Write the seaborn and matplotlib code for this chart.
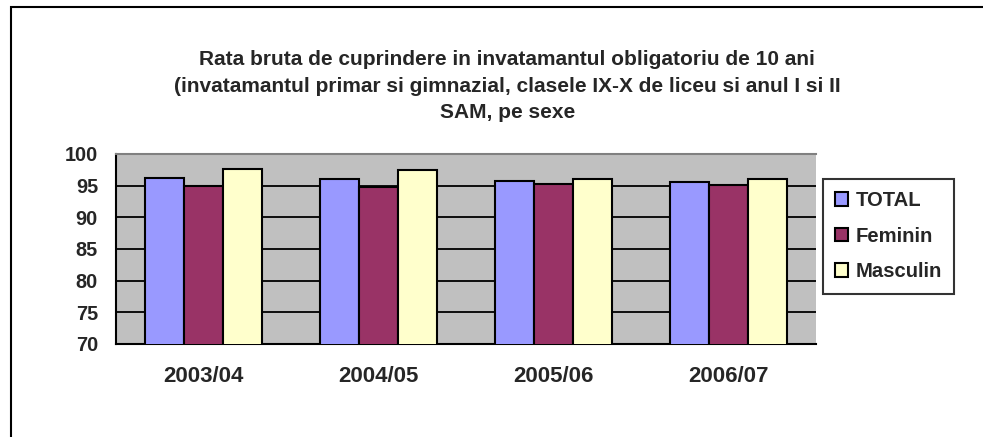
import matplotlib
matplotlib.use("Agg")
import matplotlib.pyplot as plt
import pandas as pd
import seaborn as sns
from matplotlib.patches import Rectangle

years = ["2003/04", "2004/05", "2005/06", "2006/07"]
series = ["TOTAL", "Feminin", "Masculin"]
total = [96.2, 96.1, 95.7, 95.5]
feminin = [95.0, 94.7, 95.2, 95.1]
masculin = [97.6, 97.5, 96.1, 96.0]
colors = ["#9999FF", "#993366", "#FFFFCC"]

title = ("Rata bruta de cuprindere in invatamantul obligatoriu de 10 ani\n"
         "(invatamantul primar si gimnazial, clasele IX-X de liceu si anul I si II\n"
         "SAM, pe sexe")

df = pd.DataFrame({"an": years, "TOTAL": total, "Feminin": feminin, "Masculin": masculin})
df = df.melt(id_vars="an", var_name="serie", value_name="rata")

sns.set_theme(style="white")
plt.rcParams["font.family"] = ["Liberation Sans", "DejaVu Sans"]
plt.rcParams["font.weight"] = "bold"

fig = plt.figure(figsize=(9.83, 4.37), dpi=100)
ax = fig.add_axes([0.118, 0.213, 0.712, 0.435])

sns.barplot(data=df, x="an", y="rata", hue="serie", hue_order=series,
            palette=colors, saturation=1, width=2 / 3, edgecolor="black",
            linewidth=1.5, ax=ax, zorder=3)

ax.set_facecolor("#C0C0C0")
ax.set_ylim(70, 100)
ax.set_yticks(range(70, 101, 5))
ax.set_xlim(-0.5, 3.5)
ax.grid(axis="y", color="black", linewidth=1.3, zorder=0)
ax.set_axisbelow(True)

# ticks between the groups, like Excel
ax.set_xticks([-0.5, 0.5, 1.5, 2.5, 3.5], minor=False)
ax.set_xticklabels([])
ax.set_xticks(range(4), minor=True)
ax.set_xticklabels(years, minor=True)
ax.tick_params(axis="x", which="major", direction="out", length=6, width=1.5, color="black")
ax.tick_params(axis="x", which="minor", length=0, pad=16, labelsize=16)
ax.tick_params(axis="y", direction="out", length=5, width=1.5, color="black",
               labelsize=14.3, pad=8)
for lab in ax.get_xticklabels(minor=True) + ax.get_yticklabels():
    lab.set_fontweight("bold")

for side in ["left", "bottom"]:
    ax.spines[side].set_color("black")
    ax.spines[side].set_linewidth(1.5)
ax.spines["top"].set_color("#808080")
ax.spines["top"].set_linewidth(1.5)
ax.spines["right"].set_visible(False)

ax.set_xlabel("")
ax.set_ylabel("")

leg = ax.legend(loc="upper left", bbox_to_anchor=(1.01, 0.868), frameon=True,
                fancybox=False, edgecolor="black", fontsize=14.6, handlelength=0.65,
                handleheight=0.65, handletextpad=0.35, labelspacing=0.82,
                borderpad=0.6, borderaxespad=0)
leg.get_frame().set_linewidth(1.5)
for t in leg.get_texts():
    t.set_fontweight("bold")

# titlul e centrat pe zona graficului, care iese din imagine la dreapta
# (va="baseline" aliniaza ultima linie)
fig.text(0.516, 1 - 118 / 437, title, ha="center", va="baseline", fontsize=15,
         fontweight="bold", linespacing=1.5)

# cadru exterior (dreapta si jos ies din imagine)
fig.patches.append(Rectangle((11 / 983, -0.05), 1.0, 1 - 7 / 437 + 0.05,
                             transform=fig.transFigure, fill=False,
                             edgecolor="black", linewidth=1.5))

fig.savefig("out.png", dpi=100)
